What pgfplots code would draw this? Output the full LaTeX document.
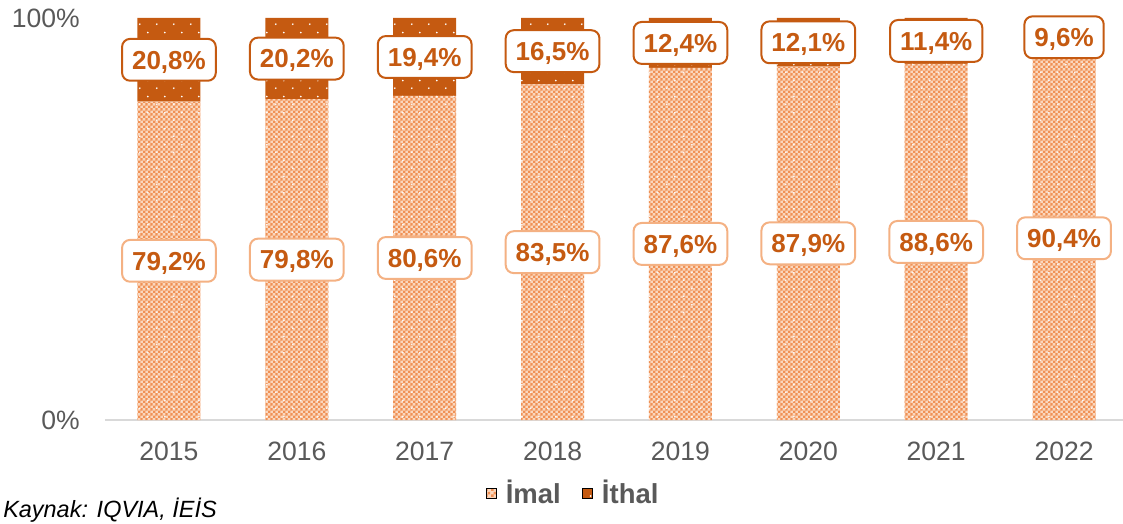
\documentclass[border=0pt]{standalone}
\usepackage{pgfplots}
\pgfplotsset{compat=1.18}
\usepackage{pgfplotstable}
\usepackage{fontspec}
\setmainfont{Liberation Sans}
\usetikzlibrary{patterns}
\definecolor{dark}{RGB}{197,90,17}
\definecolor{lightb}{RGB}{244,177,131}
\definecolor{imalbase}{RGB}{250,215,190}
\definecolor{imalchk}{RGB}{240,145,85}
\definecolor{txtgray}{RGB}{89,89,89}
\definecolor{axgray}{RGB}{217,217,217}
\pgfdeclarepatternformonly{checker}{\pgfpointorigin}{\pgfpoint{4pt}{4pt}}{\pgfpoint{4pt}{4pt}}{
  \pgfpathrectangle{\pgfpointorigin}{\pgfpoint{2pt}{2pt}}
  \pgfpathrectangle{\pgfpoint{2pt}{2pt}}{\pgfpoint{2pt}{2pt}}
  \pgfusepath{fill}}
\pgfdeclarepatternformonly{sparsedots}{\pgfpointorigin}{\pgfpoint{12.75pt}{12pt}}{\pgfpoint{12.75pt}{12pt}}{
  \pgfpathcircle{\pgfpoint{3pt}{3pt}}{0.75pt}
  \pgfpathcircle{\pgfpoint{9.4pt}{9pt}}{0.75pt}
  \pgfusepath{fill}}
\pgfplotstableread{
x imal ithal
0 79.2 20.8
1 79.8 20.2
2 80.6 19.4
3 83.5 16.5
4 87.6 12.4
5 87.9 12.1
6 88.6 11.4
7 90.4 9.6
}\datatable
\begin{document}
\begin{tikzpicture}
\begin{axis}[
  at={(0,0)}, anchor=south west,
  scale only axis,
  width=767.25pt, height=301.5pt,
  ybar stacked,
  bar width=47.25pt,
  xmin=-0.5, xmax=7.5,
  ymin=0, ymax=100,
  enlargelimits=false,
  clip=false,
  axis lines*=left,
  x axis line style={draw=axgray, line width=1.5pt},
  y axis line style={draw=none},
  major tick length=0pt,
  xtick={0,...,7},
  xticklabels={2015,2016,2017,2018,2019,2020,2021,2022},
  ytick={0,100},
  yticklabels={0\%,100\%},
  tick label style={font=\fontsize{19.9}{24}\selectfont, text=txtgray, inner sep=0pt},
  xticklabel shift=16.5pt,
  yticklabel shift=18.75pt,
  /pgf/number format/assume math mode=true,
  point meta=explicit,
  legend columns=2,
  legend style={at={(rel axis cs:0.458,-0.1816)}, anchor=center, draw=none, fill=none,
    font=\bfseries\fontsize{20.6}{24}\selectfont, text=txtgray,
    /tikz/every odd column/.append style={column sep=5pt},
    /tikz/every even column/.append style={column sep=14pt}},
  legend image code/.code={\path[#1, draw=none] (0pt,-3.75pt) rectangle (7.5pt,3.75pt);},
  nodes near coords={\pgfmathprintnumber[fixed,fixed zerofill,precision=1,use comma]{\pgfplotspointmeta}\%},
]
\addplot[forget plot, fill=imalbase, draw=none,
  postaction={pattern=checker, pattern color=imalchk},
  postaction={pattern=sparsedots, pattern color=white},
  every node near coord/.append style={anchor=center,
    draw=lightb, fill=white, line width=1.5pt, rounded corners=6pt,
    text=dark, font=\bfseries\fontsize{19.5}{23}\selectfont,
    inner xsep=7.5pt, inner ysep=8.7pt, text height=14pt, text depth=0pt}
] table[x=x, y=imal, meta=imal] {\datatable};
\addplot[forget plot, fill=dark, draw=none,
  postaction={pattern=sparsedots, pattern color=white},
  every node near coord/.append style={anchor=center,
    draw=dark, fill=white, line width=1.5pt, rounded corners=6pt,
    text=dark, font=\bfseries\fontsize{19.5}{23}\selectfont,
    inner xsep=7.5pt, inner ysep=8.7pt, text height=14pt, text depth=0pt}
] table[x=x, y=ithal, meta=ithal] {\datatable};
\addlegendimage{fill=imalbase, postaction={pattern=checker, pattern color=imalchk}}
\addlegendentry{İmal}
\addlegendimage{fill=dark, postaction={pattern=sparsedots, pattern color=white}}
\addlegendentry{İthal}
\end{axis}
\node[anchor=base east, inner sep=0pt, font=\itshape\fontsize{17.6}{21}\selectfont] at (84pt,-73.5pt) {Kaynak: IQVIA, İEİS};
\pgfresetboundingbox
\path[use as bounding box] (-78.75pt,-78pt) rectangle (763.5pt,315pt);
\end{tikzpicture}
\end{document}
